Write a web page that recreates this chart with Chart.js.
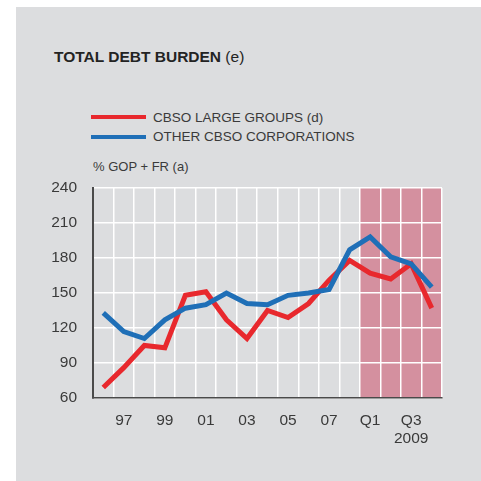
<!DOCTYPE html>
<html>
<head>
<meta charset="utf-8">
<script src="https://cdn.jsdelivr.net/npm/chart.js@4.4.1/dist/chart.umd.min.js"></script>
<style>
  html, body { margin: 0; padding: 0; background: #ffffff; }
  body { width: 481px; height: 481px; position: relative; overflow: hidden;
         font-family: "Liberation Sans", Arial, sans-serif; color: #3a3a3a; }
  #panel { position: absolute; left: 16px; top: 7px; right: 0; bottom: 0; background: #dcdddf; }
  #chart { position: absolute; left: 0; top: 0; }
  .txt { position: absolute; white-space: nowrap; line-height: 1; }
  #title { left: 54px; top: 49px; font-size: 15.5px; color: #232323; }
  #title b { font-weight: bold; }
  .key { position: absolute; left: 91px; width: 55px; height: 4px; }
  .keytxt { left: 153px; font-size: 13.5px; }
  #unit { left: 93px; top: 160px; font-size: 13px; }
</style>
</head>
<body>
<div id="panel"></div>
<div id="title" class="txt"><b>TOTAL DEBT BURDEN</b> (e)</div>
<div class="key" id="key0" style="top:115px"></div>
<div class="txt keytxt" id="lab0" style="top:111px"></div>
<div class="key" id="key1" style="top:135px"></div>
<div class="txt keytxt" id="lab1" style="top:130px"></div>
<div id="unit" class="txt">% GOP + FR (a)</div>
<canvas id="chart" width="481" height="481"></canvas>
<script>
// Periods: annual 1996-2008, then the four quarters of 2009
const periods = ['1996', '1997', '1998', '1999', '2000', '2001', '2002', '2003', '2004',
                 '2005', '2006', '2007', '2008', '2009 Q1', '2009 Q2', '2009 Q3', '2009 Q4'];
const xTickLabels = ['', '97', '', '99', '', '01', '', '03', '', '05', '', '07', '',
                     'Q1', '', ['Q3', '2009'], ''];
const seriesNames = ['CBSO LARGE GROUPS (d)', 'OTHER CBSO CORPORATIONS'];
const largeGroups = [69, 86, 105, 103, 148, 151, 127, 111, 135, 129, 141, 161, 178, 167, 162, 175, 137];
const otherCorps  = [133, 117, 111, 127, 137, 140, 150, 141, 140, 148, 150, 153, 187, 198, 181, 175, 155];
const yTicks = [60, 90, 120, 150, 180, 210, 240];
const quarterlyStart = 13; // first quarterly period (2009 Q1)

const RED = '#e8282d';
const BLUE = '#1f6fb7';
const SHADE = '#d4909f';

// legend keys
document.getElementById('key0').style.background = RED;
document.getElementById('key1').style.background = BLUE;
document.getElementById('lab0').textContent = seriesNames[0];
document.getElementById('lab1').textContent = seriesNames[1];

// shaded band behind the quarterly periods (drawn before grid so white lines sit on top)
const quarterBand = {
  id: 'quarterBand',
  beforeDraw(chart) {
    const { ctx, chartArea, scales } = chart;
    const x = scales.x;
    const left = (x.getPixelForTick(quarterlyStart - 1) + x.getPixelForTick(quarterlyStart)) / 2;
    ctx.save();
    ctx.fillStyle = SHADE;
    ctx.fillRect(left, chartArea.top, chartArea.right - left, chartArea.bottom - chartArea.top);
    ctx.restore();
  }
};

const tickFont = { family: '"Liberation Sans", Arial, sans-serif', size: 15.5 };

new Chart(document.getElementById('chart'), {
  type: 'line',
  data: {
    labels: periods,
    datasets: [
      { label: seriesNames[1], data: otherCorps, borderColor: BLUE, backgroundColor: BLUE,
        borderWidth: 5, pointRadius: 0, tension: 0, order: 0 },
      { label: seriesNames[0], data: largeGroups, borderColor: RED, backgroundColor: RED,
        borderWidth: 5, pointRadius: 0, tension: 0, order: 1 }
    ]
  },
  options: {
    responsive: false,
    animation: false,
    events: [],
    layout: { padding: { top: 188, right: 39, left: 0, bottom: 0 } },
    plugins: { legend: { display: false }, title: { display: false }, tooltip: { enabled: false } },
    scales: {
      x: {
        offset: true,
        afterFit(s) { s.height = 83; },
        grid: { offset: true, color: '#ffffff', lineWidth: 1.5, drawTicks: false },
        border: { color: '#4a4a4a', width: 1.5 },
        ticks: {
          autoSkip: false, maxRotation: 0, padding: 13, color: '#3a3a3a', font: tickFont,
          callback: (v, i) => xTickLabels[i]
        }
      },
      y: {
        min: yTicks[0], max: yTicks[yTicks.length - 1],
        afterFit(s) { s.width = 93; },
        afterBuildTicks(s) { s.ticks = yTicks.map(v => ({ value: v })); },
        grid: { color: '#ffffff', lineWidth: 1.5, drawTicks: false },
        border: { color: '#4a4a4a', width: 2 },
        ticks: { padding: 16, color: '#3a3a3a', font: tickFont }
      }
    }
  },
  plugins: [quarterBand]
});
</script>
</body>
</html>
